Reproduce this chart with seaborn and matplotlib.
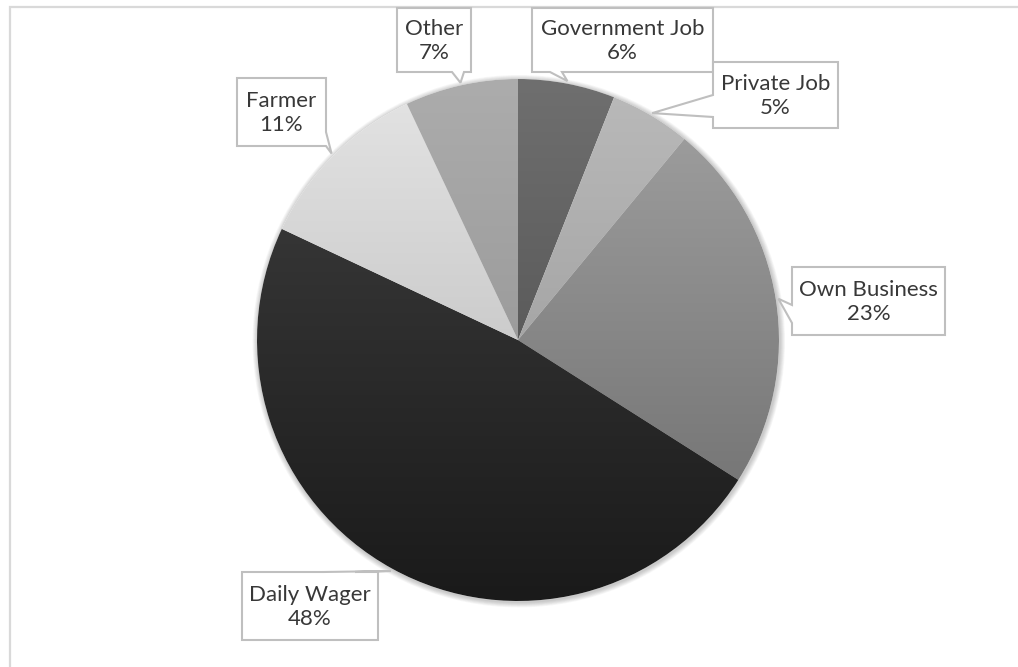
import numpy as np
import matplotlib
matplotlib.use("Agg")
import matplotlib.pyplot as plt
from matplotlib.patches import Polygon, Circle
import seaborn as sns

# Occupation shares (percent)
categories = ["Government Job", "Private Job", "Own Business", "Daily Wager", "Farmer", "Other"]
shares = [6, 5, 23, 48, 11, 7]

# Grey shade of each slice at the top and bottom of the pie (0-255)
shade_top = [111, 186, 162, 64, 228, 172]
shade_bottom = [71, 146, 106, 26, 180, 140]

sns.set_theme(style="white")
plt.rcParams["font.family"] = ["Lato", "DejaVu Sans"]

W, H = 1018, 667
fig = plt.figure(figsize=(W / 100, H / 100), dpi=100)
ax = fig.add_axes([0, 0, 1, 1])

cx, cy, r = 518, 340, 261

# soft outer shadow of the pie
for k in range(1, 8):
    ax.add_patch(Circle((cx + 0.8, cy + 1.2), r + k * 0.75, facecolor="black",
                        edgecolor="none", alpha=0.03, zorder=1))

wedges, _ = ax.pie(shares, center=(cx, cy), radius=r, startangle=270,
                   counterclock=True, colors=["white"] * len(shares),
                   wedgeprops=dict(linewidth=0, zorder=2))

# vertical gradient fill clipped to each slice
rows = 256
t = np.linspace(0, 1, rows)[:, None]
for w, top, bot in zip(wedges, shade_top, shade_bottom):
    v = (top + (bot - top) * t) / 255.0
    img = np.repeat(v[:, :, None], 3, axis=2)
    im = ax.imshow(img, extent=(cx - r, cx + r, cy + r, cy - r), origin="upper",
                   interpolation="bilinear", zorder=3, aspect="auto")
    im.set_clip_path(w)

ax.set_xlim(0, W)
ax.set_ylim(H, 0)
ax.set_aspect("equal")
ax.axis("off")

# chart area frame
ax.plot([10, 10, W + 5], [H + 5, 7, 7], color="#d9d9d9", lw=1.6,
        solid_joinstyle="miter", zorder=0, clip_on=False)

# callout boxes: (x0, y0, x1, y1, side of pointer, base start, base end)
boxes = {
    "Government Job": (532, 8, 713, 72, "bottom", 550, 562),
    "Private Job": (713, 62, 838, 128, "left", 95, 117),
    "Own Business": (792, 267, 945, 335, "left", 305, 323),
    "Daily Wager": (242, 572, 378, 640, "top", 323, 355),
    "Farmer": (237, 78, 326, 146, "right", 132, 146),
    "Other": (397, 8, 471, 72, "bottom", 452, 464),
}

for w, name, val in zip(wedges, categories, shares):
    mid = np.deg2rad((w.theta1 + w.theta2) / 2)
    tip = (cx + 1.01 * r * np.cos(mid), cy + 1.01 * r * np.sin(mid))
    x0, y0, x1, y1, side, a, b = boxes[name]
    if side == "bottom":
        pts = [(x0, y0), (x1, y0), (x1, y1), (b, y1), tip, (a, y1), (x0, y1)]
    elif side == "top":
        pts = [(x0, y0), (a, y0), tip, (b, y0), (x1, y0), (x1, y1), (x0, y1)]
    elif side == "left":
        pts = [(x0, y0), (x1, y0), (x1, y1), (x0, y1), (x0, b), tip, (x0, a)]
    else:
        pts = [(x0, y0), (x1, y0), (x1, a), tip, (x1, b), (x1, y1), (x0, y1)]
    ax.add_patch(Polygon(pts, closed=True, facecolor="white", edgecolor="#bfbfbf",
                         lw=1.5, joinstyle="miter", zorder=5))
    ax.text((x0 + x1) / 2, (y0 + y1) / 2 + 1, f"{name}\n{val}%", ha="center",
            va="center", fontsize=16, color="#383838", linespacing=1.25, zorder=6)

fig.savefig("out.png", dpi=100, facecolor="white")
